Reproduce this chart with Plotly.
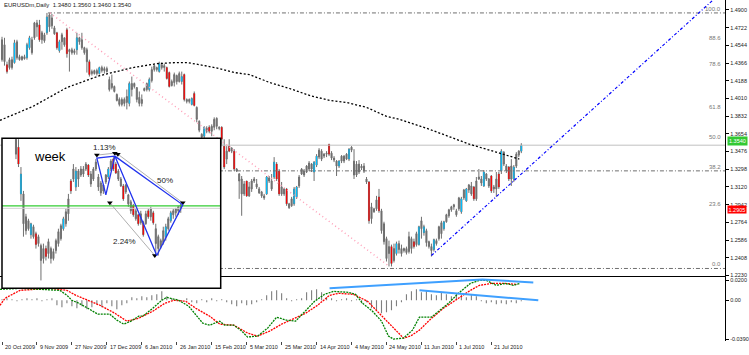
import plotly.graph_objects as go

# ---------------- data ----------------
title_text = "EURUSDm,Daily  1.3480 1.3560 1.3460 1.3540"

bar_open = [1.460,1.455,1.435,1.432,1.440,1.437,1.458,1.443,1.440,1.443,
 1.442,1.452,1.460,1.462,1.473,1.475,1.460,1.465,1.467,1.485,
 1.474,1.472,1.467,1.449,1.458,1.462,1.470,1.448,1.450,1.447,
 1.450,1.462,1.460,1.452,1.450,1.438,1.428,1.426,1.429,1.426,
 1.432,1.429,1.431,1.420,1.412,1.413,1.405,1.400,1.395,1.400,
 1.397,1.396,1.416,1.413,1.412,1.402,1.396,1.409,1.410,1.410,
 1.419,1.430,1.432,1.428,1.435,1.432,1.432,1.427,1.414,1.417,
 1.424,1.418,1.418,1.425,1.400,1.398,1.395,1.406,1.392,1.378,
 1.365,1.363,1.371,1.372,1.368,1.372,1.381,1.372,1.372,1.353,
 1.340,1.353,1.348,1.348,1.330,1.325,1.320,1.305,1.318,1.303,
 1.310,1.318,1.315,1.310,1.307,1.303,1.305,1.321,1.318,1.322,
 1.335,1.328,1.305,1.310,1.310,1.295,1.293,1.295,1.302,1.313,
 1.325,1.328,1.327,1.330,1.335,1.327,1.334,1.342,1.348,1.343,
 1.345,1.355,1.346,1.341,1.338,1.333,1.338,1.343,1.340,1.340,
 1.349,1.338,1.324,1.335,1.331,1.333,1.320,1.317,1.280,1.290,
 1.290,1.302,1.288,1.275,1.260,1.245,1.252,1.238,1.245,1.255,
 1.250,1.248,1.250,1.247,1.260,1.257,1.254,1.254,1.270,1.266,
 1.268,1.257,1.252,1.249,1.258,1.260,1.265,1.270,1.277,1.283,
 1.289,1.292,1.288,1.290,1.287,1.301,1.298,1.309,1.313,1.312,
 1.300,1.320,1.320,1.313,1.325,1.320,1.323,1.310,1.310,1.325,
 1.328,1.347,1.333,1.332,1.320,1.320,1.333,1.344,1.348]
bar_high = [1.463,1.462,1.438,1.442,1.443,1.460,1.460,1.445,1.444,1.445,
 1.457,1.464,1.463,1.478,1.480,1.480,1.469,1.467,1.487,1.487,
 1.486,1.474,1.468,1.460,1.467,1.462,1.472,1.451,1.452,1.451,
 1.467,1.463,1.467,1.453,1.452,1.440,1.430,1.430,1.431,1.433,
 1.434,1.433,1.433,1.423,1.425,1.414,1.406,1.402,1.402,1.402,
 1.410,1.418,1.423,1.417,1.412,1.408,1.405,1.412,1.417,1.422,
 1.433,1.435,1.433,1.438,1.437,1.436,1.433,1.428,1.420,1.427,
 1.425,1.428,1.428,1.426,1.401,1.401,1.402,1.408,1.393,1.379,
 1.366,1.373,1.373,1.374,1.375,1.382,1.382,1.373,1.373,1.360,
 1.353,1.360,1.352,1.350,1.331,1.326,1.323,1.318,1.318,1.317,
 1.320,1.322,1.320,1.312,1.308,1.305,1.323,1.323,1.325,1.342,
 1.337,1.330,1.317,1.311,1.311,1.296,1.302,1.312,1.313,1.324,
 1.331,1.330,1.334,1.338,1.336,1.338,1.345,1.351,1.350,1.346,
 1.348,1.355,1.348,1.343,1.339,1.339,1.344,1.344,1.346,1.351,
 1.353,1.350,1.338,1.339,1.335,1.336,1.322,1.318,1.296,1.291,
 1.303,1.310,1.290,1.277,1.262,1.258,1.254,1.255,1.257,1.258,
 1.254,1.251,1.252,1.267,1.262,1.260,1.267,1.273,1.282,1.274,
 1.270,1.258,1.255,1.260,1.260,1.273,1.278,1.278,1.285,1.290,
 1.293,1.295,1.290,1.302,1.302,1.310,1.311,1.315,1.317,1.313,
 1.322,1.330,1.323,1.329,1.326,1.321,1.324,1.314,1.327,1.327,
 1.350,1.348,1.335,1.333,1.340,1.334,1.347,1.349,1.356]
bar_low = [1.438,1.434,1.426,1.430,1.430,1.436,1.440,1.439,1.439,1.440,
 1.440,1.450,1.445,1.460,1.463,1.458,1.456,1.457,1.465,1.468,
 1.471,1.465,1.450,1.447,1.450,1.453,1.442,1.428,1.445,1.445,
 1.445,1.455,1.450,1.445,1.427,1.423,1.424,1.425,1.424,1.425,
 1.427,1.426,1.427,1.408,1.410,1.407,1.398,1.393,1.393,1.393,
 1.390,1.393,1.403,1.411,1.397,1.393,1.393,1.408,1.408,1.408,
 1.417,1.428,1.428,1.427,1.430,1.428,1.420,1.412,1.413,1.413,
 1.415,1.417,1.415,1.398,1.396,1.396,1.394,1.393,1.377,1.367,
 1.360,1.360,1.366,1.366,1.363,1.369,1.370,1.369,1.353,1.330,
 1.335,1.347,1.346,1.328,1.327,1.300,1.283,1.303,1.302,1.302,
 1.307,1.316,1.310,1.305,1.301,1.299,1.304,1.316,1.308,1.320,
 1.318,1.303,1.303,1.303,1.293,1.290,1.292,1.293,1.300,1.311,
 1.324,1.322,1.326,1.328,1.327,1.318,1.332,1.340,1.338,1.341,
 1.342,1.343,1.339,1.337,1.323,1.331,1.336,1.336,1.339,1.338,
 1.347,1.320,1.322,1.325,1.329,1.326,1.315,1.275,1.275,1.286,
 1.288,1.286,1.265,1.254,1.237,1.232,1.232,1.236,1.243,1.245,
 1.242,1.246,1.244,1.245,1.245,1.250,1.252,1.253,1.260,1.263,
 1.252,1.250,1.242,1.247,1.253,1.258,1.260,1.268,1.276,1.281,
 1.287,1.289,1.282,1.288,1.285,1.299,1.297,1.306,1.303,1.298,
 1.298,1.319,1.313,1.312,1.318,1.311,1.306,1.306,1.302,1.310,
 1.325,1.333,1.326,1.318,1.313,1.317,1.331,1.342,1.346]
bar_close = [1.440,1.438,1.428,1.440,1.432,1.457,1.442,1.440,1.443,1.441,
 1.455,1.462,1.447,1.477,1.477,1.460,1.467,1.459,1.483,1.473,
 1.482,1.466,1.452,1.458,1.465,1.455,1.446,1.450,1.447,1.449,
 1.462,1.458,1.452,1.447,1.438,1.425,1.426,1.429,1.426,1.432,
 1.429,1.431,1.428,1.410,1.416,1.408,1.399,1.395,1.400,1.396,
 1.403,1.416,1.410,1.416,1.400,1.396,1.400,1.411,1.416,1.420,
 1.430,1.434,1.430,1.436,1.432,1.434,1.421,1.413,1.418,1.425,
 1.418,1.426,1.423,1.400,1.398,1.400,1.401,1.394,1.380,1.369,
 1.362,1.372,1.368,1.368,1.373,1.380,1.373,1.371,1.360,1.332,
 1.348,1.348,1.351,1.330,1.328,1.318,1.305,1.315,1.303,1.312,
 1.318,1.320,1.312,1.306,1.303,1.301,1.322,1.318,1.310,1.337,
 1.320,1.305,1.312,1.305,1.295,1.291,1.300,1.310,1.312,1.322,
 1.330,1.324,1.333,1.336,1.330,1.337,1.343,1.349,1.340,1.345,
 1.346,1.345,1.341,1.339,1.333,1.338,1.343,1.338,1.345,1.350,
 1.352,1.324,1.335,1.327,1.333,1.328,1.317,1.278,1.292,1.287,
 1.299,1.288,1.268,1.257,1.240,1.252,1.235,1.250,1.255,1.249,
 1.245,1.250,1.246,1.262,1.250,1.252,1.265,1.272,1.278,1.272,
 1.256,1.252,1.248,1.259,1.255,1.272,1.276,1.277,1.284,1.289,
 1.292,1.294,1.284,1.301,1.300,1.309,1.310,1.314,1.305,1.300,
 1.318,1.322,1.316,1.327,1.320,1.313,1.308,1.312,1.320,1.312,
 1.348,1.335,1.328,1.320,1.333,1.332,1.345,1.348,1.354]
bar_flags = ("ggrggcgggg" "ccgggrggcg" "ggrcggrggg" "cggggrgggc" "gggggggggg"
             "gcgggggggc" "gggcggrrgg" "ggcrggcrgg" "gcgrggggrr" "grgrggggrg"
             "ggggggcggc" "rrggrggccg" "gggggccggg" "grgggcgggc" "gggggggrgg"
             "grggggrgcg" "gggggrgcgc" "gggcgggcgg" "ggggcgcggr" "gggcggrggr"
             "cggrgcggc")

# moving average (sampled along the dotted black curve): bar position, price
ma_bar = [-0.8, 12.4, 26, 39.2, 52.4, 62, 69.2, 74.4, 81.2, 87.2, 93.2, 99.2, 107.2,
          115.2, 123.2, 131.2, 138, 146, 154, 159.2, 171.2, 187.2, 198, 207.2]
ma_val = [1.379, 1.393, 1.412, 1.424, 1.432, 1.436, 1.437, 1.437, 1.434, 1.431, 1.427,
          1.425, 1.417, 1.411, 1.404, 1.399, 1.397, 1.392, 1.383, 1.380, 1.370, 1.355,
          1.347, 1.340]

# trend lines (bar, price)
pink_bar = [19.2, 155.2]
pink_val = [1.487, 1.232]
blue_bar = [172, 284.8]
blue_val = [1.243, 1.500]

# fibonacci retracement
fib_low, fib_high, fib_start = 1.230, 1.487, 18.4
fib_levels = [0.0, 23.6, 38.2, 50.0, 61.8, 78.6, 88.6, 100.0]
fib_drawn = [0.0, 38.2, 100.0]
alert_price = 1.2905

price_ticks = [1.4900, 1.4722, 1.4544, 1.4366, 1.4188, 1.4010, 1.3832, 1.3654, 1.3476,
               1.3298, 1.3120, 1.2942, 1.2764, 1.2586, 1.2408, 1.2230]

date_bars = [0, 14, 28, 42, 56, 70, 84, 98, 112, 126, 140, 154, 168, 182, 196]
date_labels = ["20 Oct 2009", "9 Nov 2009", "27 Nov 2009", "17 Dec 2009", "6 Jan 2010",
               "26 Jan 2010", "15 Feb 2010", "5 Mar 2010", "25 Mar 2010", "14 Apr 2010",
               "4 May 2010", "24 May 2010", "11 Jun 2010", "1 Jul 2010", "21 Jul 2010"]

# oscillator panel
osc_green_bar = [-0.8, 7.2, 23.2, 26, 28, 30.8, 34.4, 38.4, 43.2, 46, 48.8, 51.6, 54.8, 56.4,
                 60.4, 64, 66, 70.8, 74.8, 77.6, 80.4, 83.2, 87.2, 89.2, 92.8, 95.6, 98.4,
                 102.4, 106.4, 110, 114, 117.6, 121.6, 125.2, 129.2, 132.8, 138.8, 141.6,
                 144.4, 148.4, 152, 154.8, 156.8, 160.8, 164.4, 167.2, 172, 175.2, 178.8,
                 182.8, 187.6, 191.2, 194, 198, 201.6, 204.8, 207.6]
osc_green = [0.011, 0.012, 0.010, 0.005, 0.000, -0.003, -0.008, -0.014, -0.014, -0.020,
             -0.024, -0.021, -0.016, -0.016, -0.008, 0.000, 0.003, 0.000, -0.006, -0.015,
             -0.023, -0.025, -0.021, -0.025, -0.025, -0.030, -0.037, -0.036, -0.028, -0.017,
             -0.020, -0.021, -0.011, -0.001, 0.006, 0.009, 0.008, 0.006, -0.003, -0.011,
             -0.021, -0.036, -0.039, -0.038, -0.030, -0.017, -0.017, -0.010, -0.003, 0.007,
             0.017, 0.020, 0.020, 0.015, 0.017, 0.015, 0.017]
osc_red_bar = [-0.8, 1.2, 7.2, 19.2, 26, 29.6, 34.4, 39.2, 45.2, 50, 54.8, 60.4, 65.2, 68.8,
               73.6, 77.6, 83.2, 87.2, 92.8, 98.4, 102.4, 107.2, 112, 115.6, 121.6, 126.4,
               131.2, 134.8, 140.8, 146.4, 152, 156.8, 160.8, 163.6, 167.2, 171.2, 176.8,
               182.8, 187.6, 191.2, 196, 201.6, 206.4]
osc_red = [-0.005, 0.002, 0.010, 0.012, 0.010, 0.005, 0.000, -0.005, -0.013, -0.021, -0.018,
           -0.011, -0.003, 0.000, -0.001, -0.008, -0.016, -0.024, -0.025, -0.033, -0.036,
           -0.031, -0.024, -0.020, -0.013, -0.005, 0.005, 0.007, 0.006, -0.001, -0.015,
           -0.028, -0.038, -0.036, -0.030, -0.020, -0.008, 0.002, 0.010, 0.015, 0.017,
           0.017, 0.016]
osc_hist = [0.001, 0.002, 0.001, -0.001, 0.001, 0.002, 0.001, 0.002, -0.001, 0.001,
            0.002, -0.005, -0.007, -0.003, -0.006, -0.008, -0.006, -0.009, -0.007, -0.004,
            -0.007, -0.003, -0.006, -0.009, -0.005, -0.003, 0.003, 0.002, 0.004, 0.003,
            0.005, 0.006, 0.009, 0.004, 0.002, 0.001, -0.001, 0.002, -0.002, -0.003,
            0.001, -0.002, 0.002, -0.001, 0.001, -0.002, -0.004, -0.006, -0.003, -0.005,
            -0.004, -0.002, 0.001, 0.005, 0.009, 0.010, 0.007, 0.002, -0.001, 0.001,
            0.002, 0.008, 0.010, 0.011, 0.008, 0.003, 0.002, -0.001, 0.001, 0.002,
            -0.001, 0.001, -0.003, -0.002, -0.008, -0.011, -0.013, -0.012, -0.010, -0.006,
            -0.002, 0.006, 0.009, 0.011, 0.008, 0.010, 0.006, 0.005, 0.008, 0.006,
            0.004, 0.007, 0.005, 0.003, 0.006, 0.004, -0.001, -0.003, -0.002, -0.004,
            -0.003, -0.004, -0.002, -0.003, -0.001]
osc_line1_bar = [131.2, 192.4, 212.8]
osc_line1 = [0.012, 0.021, 0.018]
osc_line2_bar = [167.2, 214.8]
osc_line2 = [0.010, 0.000]
osc_ticks = [0.020, 0.0, -0.039]
osc_ticktext = ["0.0200", "0.00", "-0.0390"]

# weekly inset
wk_open = [1.560,1.552,1.505,1.505,1.482,1.470,1.464,1.472,1.465,1.455,
 1.453,1.440,1.450,1.445,1.450,1.440,1.448,1.455,1.460,1.470,
 1.475,1.485,1.518,1.520,1.512,1.528,1.524,1.530,1.530,1.534,
 1.525,1.520,1.530,1.522,1.516,1.508,1.517,1.522,1.530,1.540,
 1.535,1.528,1.520,1.513,1.507,1.504,1.497,1.493,1.488,1.484,
 1.476,1.476,1.475,1.488,1.482,1.486,1.470,1.462,1.452,1.456,
 1.462,1.470,1.478,1.484,1.486,1.488,1.490]
wk_high = [1.570,1.560,1.532,1.508,1.485,1.480,1.476,1.474,1.467,1.464,
 1.455,1.455,1.453,1.460,1.452,1.450,1.460,1.470,1.475,1.482,
 1.490,1.505,1.520,1.535,1.532,1.530,1.533,1.533,1.537,1.535,
 1.528,1.532,1.540,1.525,1.518,1.515,1.525,1.532,1.540,1.542,
 1.537,1.530,1.522,1.515,1.515,1.505,1.499,1.495,1.490,1.485,
 1.488,1.478,1.488,1.490,1.492,1.488,1.475,1.464,1.460,1.472,
 1.475,1.482,1.488,1.490,1.491,1.493,1.495]
wk_low = [1.540,1.532,1.498,1.462,1.464,1.468,1.460,1.460,1.450,1.452,
 1.418,1.435,1.438,1.440,1.435,1.438,1.445,1.452,1.458,1.468,
 1.472,1.478,1.505,1.517,1.508,1.512,1.522,1.522,1.528,1.522,
 1.512,1.518,1.528,1.508,1.503,1.505,1.515,1.520,1.528,1.528,
 1.525,1.518,1.512,1.498,1.505,1.492,1.485,1.482,1.478,1.473,
 1.474,1.462,1.474,1.480,1.478,1.474,1.443,1.443,1.450,1.454,
 1.458,1.468,1.476,1.480,1.482,1.484,1.486]
wk_close = [1.545,1.535,1.525,1.475,1.468,1.478,1.475,1.462,1.454,1.462,
 1.438,1.450,1.442,1.457,1.440,1.447,1.458,1.467,1.473,1.480,
 1.487,1.500,1.508,1.530,1.528,1.520,1.530,1.525,1.535,1.524,
 1.515,1.530,1.537,1.512,1.506,1.514,1.524,1.530,1.538,1.530,
 1.526,1.520,1.513,1.500,1.514,1.495,1.488,1.484,1.480,1.475,
 1.485,1.464,1.485,1.482,1.490,1.476,1.455,1.450,1.458,1.468,
 1.472,1.480,1.486,1.488,1.490,1.492,1.494]
wk_flags = ("grcgggcgrg" "ggrggggggc" "ggrgcggggr" "gggggggcgr" "rggrgggrgr"
            "grgrgrgggg" "cgcgggg")
wk_pattern_bar = [39.6, 32.4, 36, 39.6, 56.4, 66.8, 39.6]
wk_pattern_val = [1.543, 1.541, 1.504, 1.543, 1.443, 1.494, 1.543]
wk_measures = [([32.4, 39.6], [1.544, 1.546]),
               ([37.6, 55.6], [1.496, 1.443]),
               ([40.8, 66.8], [1.545, 1.496])]
wk_labels = [("1.13%", 35.6, 1.552), ("50%", 59.6, 1.518), ("2.24%", 43.6, 1.457)]
wk_level = 1.493
wk_level2 = 1.4905

# ---------------- figure ----------------
W, H = 749, 355
GRAY = "#6f6f6f"
CYAN = "#00bfff"
RED = "#ff0000"
FONT = "Liberation Sans, Arial, sans-serif"
NARROW = "Liberation Sans Narrow, Liberation Sans, Arial, sans-serif"

x_main = [-0.8, 289.6]
y_main = [1.222, 1.500]
y_osc = [-0.041, 0.023]
x_wk = [-5.6, 82.0]
y_wk = [1.410, 1.561]

idx = list(range(len(bar_close)))
wk_idx = list(range(len(wk_close)))


def stripes(xs, o, c, flags, key):
    X, Y = [], []
    for x, a, b, f in zip(xs, o, c, flags):
        if f == key:
            X += [x, x, None]
            Y += [a, b, None]
    return X, Y


fig = go.Figure()

# ---- main price panel ----
fig.add_trace(go.Candlestick(
    x=idx, open=bar_open, high=bar_high, low=bar_low, close=bar_close,
    increasing=dict(line=dict(color=GRAY, width=1), fillcolor=GRAY),
    decreasing=dict(line=dict(color=GRAY, width=1), fillcolor=GRAY),
    whiskerwidth=0, hoverinfo="skip", xaxis="x", yaxis="y"))
for key, col in (("c", CYAN), ("r", RED)):
    sx, sy = stripes(idx, bar_open, bar_close, bar_flags, key)
    fig.add_trace(go.Scatter(x=sx, y=sy, mode="lines", line=dict(color=col, width=1.2),
                             hoverinfo="skip", xaxis="x", yaxis="y"))

fib_span = fib_high - fib_low
for lv in fib_drawn:
    p = fib_low + lv / 100 * fib_span
    fig.add_trace(go.Scatter(x=[fib_start, x_main[1]], y=[p, p], mode="lines",
                             line=dict(color="#707070", width=1, dash="4px,2px,1px,2px"),
                             hoverinfo="skip", xaxis="x", yaxis="y"))

bid = bar_close[-1]
fig.add_trace(go.Scatter(x=x_main, y=[bid, bid], mode="lines",
                         line=dict(color="#c0c0c0", width=1), hoverinfo="skip",
                         xaxis="x", yaxis="y"))
fig.add_trace(go.Scatter(x=ma_bar, y=ma_val, mode="lines",
                         line=dict(color="black", width=1.3, dash="2px,2px"),
                         hoverinfo="skip", xaxis="x", yaxis="y"))
fig.add_trace(go.Scatter(x=pink_bar, y=pink_val, mode="lines",
                         line=dict(color="#ff9fb8", width=1.5, dash="1px,3px"),
                         hoverinfo="skip", xaxis="x", yaxis="y"))
fig.add_trace(go.Scatter(x=blue_bar, y=blue_val, mode="lines",
                         line=dict(color="#0000ff", width=1.2, dash="3px,2px,1px,2px"),
                         hoverinfo="skip", xaxis="x", yaxis="y"))

# ---- oscillator panel ----
fig.add_trace(go.Bar(x=list(range(0, len(bar_close), 2)), y=osc_hist, width=0.45,
                     marker=dict(color="#808080", line=dict(width=0)),
                     hoverinfo="skip", xaxis="x2", yaxis="y2"))
fig.add_trace(go.Scatter(x=osc_red_bar, y=osc_red, mode="lines",
                         line=dict(color="#ff0000", width=1.3, dash="2px,1px"),
                         hoverinfo="skip", xaxis="x2", yaxis="y2"))
fig.add_trace(go.Scatter(x=osc_green_bar, y=osc_green, mode="lines",
                         line=dict(color="#008000", width=1.3, dash="2px,1px"),
                         hoverinfo="skip", xaxis="x2", yaxis="y2"))
for bx, by in ((osc_line1_bar, osc_line1), (osc_line2_bar, osc_line2)):
    fig.add_trace(go.Scatter(x=bx, y=by, mode="lines",
                             line=dict(color="#3fa0ff", width=2),
                             hoverinfo="skip", xaxis="x2", yaxis="y2"))

# ---- weekly inset ----
fig.add_trace(go.Bar(x=[(x_wk[0] + x_wk[1]) / 2], y=[y_wk[1] - y_wk[0]], base=[y_wk[0]],
                     width=[x_wk[1] - x_wk[0]], marker=dict(color="white", line=dict(width=0)),
                     hoverinfo="skip", xaxis="x3", yaxis="y3"))
fig.add_trace(go.Candlestick(
    x=wk_idx, open=wk_open, high=wk_high, low=wk_low, close=wk_close,
    increasing=dict(line=dict(color=GRAY, width=1), fillcolor=GRAY),
    decreasing=dict(line=dict(color=GRAY, width=1), fillcolor=GRAY),
    whiskerwidth=0, hoverinfo="skip", xaxis="x3", yaxis="y3"))
for key, col in (("c", CYAN), ("r", RED)):
    sx, sy = stripes(wk_idx, wk_open, wk_close, wk_flags, key)
    fig.add_trace(go.Scatter(x=sx, y=sy, mode="lines", line=dict(color=col, width=1.2),
                             hoverinfo="skip", xaxis="x3", yaxis="y3"))
fig.add_trace(go.Scatter(x=x_wk, y=[wk_level2, wk_level2], mode="lines",
                         line=dict(color="#d0d0d0", width=1), hoverinfo="skip",
                         xaxis="x3", yaxis="y3"))
fig.add_trace(go.Scatter(x=x_wk, y=[wk_level, wk_level], mode="lines",
                         line=dict(color="#33cc33", width=1.3), hoverinfo="skip",
                         xaxis="x3", yaxis="y3"))
for mx, my in wk_measures:
    fig.add_trace(go.Scatter(x=mx, y=my, mode="lines+markers",
                             line=dict(color="#9a9a9a", width=0.8),
                             marker=dict(symbol="triangle-down", size=5, color="black"),
                             hoverinfo="skip", xaxis="x3", yaxis="y3"))
fig.add_trace(go.Scatter(x=wk_pattern_bar, y=wk_pattern_val, mode="lines",
                         line=dict(color="#2233ee", width=1.3), hoverinfo="skip",
                         xaxis="x3", yaxis="y3"))

# ---------------- annotations ----------------
ann = []
ann.append(dict(text=title_text, xref="paper", yref="paper", x=2 / W, y=1 - 5 / H,
                xanchor="left", yanchor="middle", showarrow=False,
                font=dict(size=6, color="#222", family=NARROW)))
for lv in fib_levels:
    p = fib_low + lv / 100 * fib_span
    ann.append(dict(text=f"{lv:.1f}", xref="paper", yref="y", x=724 / W, y=p,
                    xanchor="right", yanchor="bottom", showarrow=False, yshift=-1,
                    font=dict(size=6, color="#777", family=NARROW)))
ann.append(dict(text=f"{bid:.4f}", xref="paper", yref="y", x=727.5 / W, y=bid, yshift=4,
                xanchor="left", yanchor="middle", showarrow=False, bgcolor="#33c933",
                borderpad=1, font=dict(size=5.5, color="white", family=NARROW)))
ann.append(dict(text=f"{alert_price:.4f}", xref="paper", yref="y", x=727.5 / W,
                y=alert_price, yshift=-1.5, xanchor="left", yanchor="middle",
                showarrow=False, bgcolor="#ff0000", borderpad=0.5,
                font=dict(size=5.5, color="white", family=NARROW)))
for b, lab in zip(date_bars, date_labels):
    ann.append(dict(text=lab, xref="x2", yref="paper", x=b, y=1 - 349 / H, xshift=1,
                    xanchor="left", yanchor="middle", showarrow=False,
                    font=dict(size=5.5, color="#222", family=NARROW)))
ann.append(dict(text="week", xref="x3", yref="y3", x=13.6, y=1.543, showarrow=False,
                font=dict(size=13, color="black", family=FONT)))
for t, bx, by in wk_labels:
    ann.append(dict(text=t, xref="x3", yref="y3", x=bx, y=by, showarrow=False,
                    font=dict(size=8, color="#222", family=FONT)))

shapes = [
    dict(type="rect", xref="paper", yref="paper", x0=2 / W, x1=221 / W,
         y0=1 - 290 / H, y1=1 - 139 / H, line=dict(color="black", width=1.5),
         fillcolor="rgba(0,0,0,0)", layer="above"),
]

ax_common = dict(showgrid=False, zeroline=False, fixedrange=True)
fig.update_layout(
    width=W, height=H, autosize=False,
    margin=dict(l=0, r=0, t=0, b=0, pad=0),
    paper_bgcolor="white", plot_bgcolor="white",
    showlegend=False, boxgap=0.4, barmode="overlay",
    font=dict(family=FONT, size=6, color="black"),
    annotations=ann, shapes=shapes,
    xaxis=dict(domain=[0, 726 / W], range=x_main, anchor="y", showticklabels=False,
               ticks="", showline=True, linecolor="black", linewidth=1,
               rangeslider=dict(visible=False), **ax_common),
    yaxis=dict(domain=[1 - 278 / H, 1], range=y_main, anchor="x", side="right",
               showline=True, linecolor="black", linewidth=1, ticks="outside",
               ticklen=3, tickcolor="black", tickvals=price_ticks,
               ticktext=[f"{v:.4f}" for v in price_ticks],
               tickfont=dict(size=5.5, color="#222", family=NARROW), **ax_common),
    xaxis2=dict(domain=[0, 726 / W], range=x_main, anchor="y2", showticklabels=False,
                tickvals=date_bars, ticks="outside", ticklen=3, tickcolor="#444",
                showline=False, **ax_common),
    yaxis2=dict(domain=[1 - 343 / H, 1 - 279 / H], range=y_osc, anchor="x2", side="right",
                showline=True, linecolor="black", linewidth=1, ticks="outside", ticklen=3,
                tickcolor="black", tickvals=osc_ticks, ticktext=osc_ticktext,
                tickfont=dict(size=5.5, color="#222", family=NARROW), **ax_common),
    xaxis3=dict(domain=[2 / W, 221 / W], range=x_wk, anchor="y3", visible=False,
                rangeslider=dict(visible=False), **ax_common),
    yaxis3=dict(domain=[1 - 290 / H, 1 - 139 / H], range=y_wk, anchor="x3", visible=False,
                **ax_common),
)

fig.write_html("out.html", config={"displayModeBar": False, "staticPlot": True},
               post_script="document.body.style.margin='0';document.body.style.padding='0';")
